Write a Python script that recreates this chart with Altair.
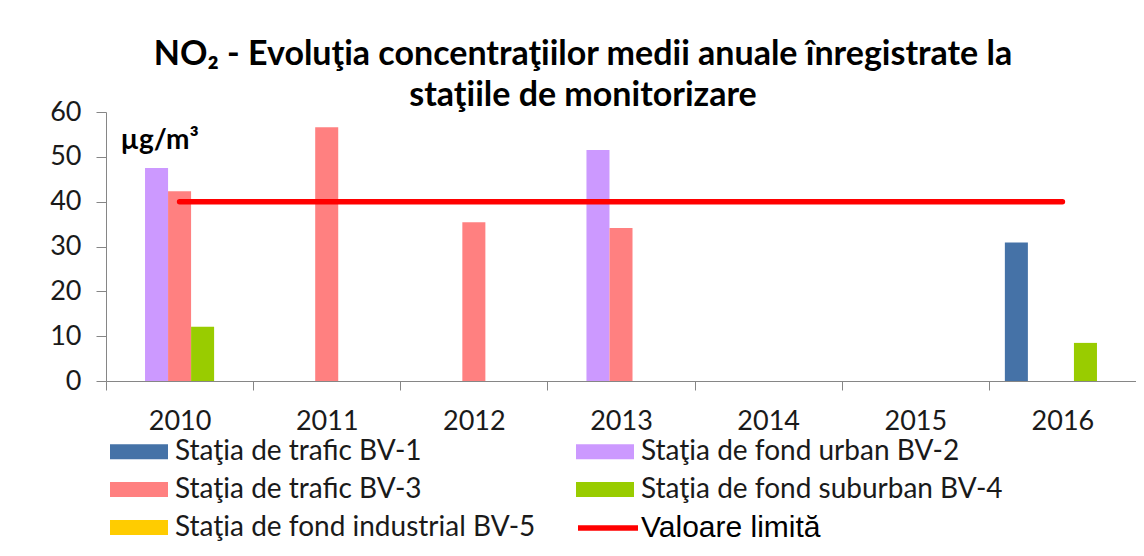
import altair as alt
import pandas as pd

years = ["2010", "2011", "2012", "2013", "2014", "2015", "2016"]
stations = [
    "Staţia de trafic BV-1",
    "Staţia de fond urban BV-2",
    "Staţia de trafic BV-3",
    "Staţia de fond suburban BV-4",
    "Staţia de fond industrial BV-5",
]
bv1 = [None, None, None, None, None, None, 30.9]
bv2 = [47.5, None, None, 51.5, None, None, None]
bv3 = [42.3, 56.6, 35.4, 34.1, None, None, None]
bv4 = [12.1, None, None, None, None, None, 8.5]
bv5 = [None, None, None, None, None, None, None]
limit_values = [40, 40, 40, 40, 40, 40, 40]
limit_label = "Valoare limită"
colors = ["#4572A7", "#CC99FF", "#FF8080", "#99CC00", "#FFCC00"]

title_lines = ["NO₂ -  Evoluţia concentraţiilor medii anuale înregistrate la",
               "staţiile de monitorizare"]
unit_label = "µg/m³"

rows = []
for st, vals in zip(stations, [bv1, bv2, bv3, bv4, bv5]):
    for y, v in zip(years, vals):
        if v is not None:
            rows.append({"year": y, "station": st, "value": v})
bars_df = pd.DataFrame(rows)
limit_df = pd.DataFrame({"year": years, "value": limit_values, "label": limit_label})

FONT = "Lato"
TXT = "#1a1a1a"

x_scale = alt.Scale(domain=years, paddingInner=0, paddingOuter=0)
y_scale = alt.Scale(domain=[0, 60], nice=False)

x_axis = alt.Axis(title=None, labelFont=FONT, labelFontSize=27, labelColor=TXT,
                  labelPadding=18, tickSize=9, tickBand="extent", domainColor="#868686",
                  tickColor="#868686", labelAngle=0, grid=False)
y_axis = alt.Axis(title=unit_label, values=[0, 10, 20, 30, 40, 50, 60], labelFont=FONT,
                  labelFontSize=27, labelColor=TXT, labelPadding=15, tickSize=10,
                  domainColor="#868686", tickColor="#868686", grid=False,
                  titleAngle=0, titleX=14, titleY=36, titleAlign="left",
                  titleBaseline="alphabetic", titleFont=FONT, titleFontSize=28,
                  titleFontWeight="bold", titleColor="#000000")

bars = alt.Chart(bars_df).mark_bar().encode(
    x=alt.X("year:N", scale=x_scale, axis=x_axis),
    xOffset=alt.XOffset("station:N", scale=alt.Scale(domain=stations, paddingInner=0, paddingOuter=0.695)),
    y=alt.Y("value:Q", scale=y_scale, axis=y_axis),
    fill=alt.Fill("station:N", scale=alt.Scale(domain=stations, range=colors),
                  legend=alt.Legend(title=None, orient="none", legendX=9.5, legendY=316,
                                    columns=2, direction="horizontal",
                                    symbolType="M-1.234,-0.319H1.234V0.319H-1.234Z",
                                    symbolSize=2209, symbolStrokeWidth=0, labelFont=FONT,
                                    labelFontSize=28, labelColor=TXT, labelOffset=12.5,
                                    columnPadding=40, rowPadding=0, padding=0,
                                    labelLimit=600, symbolOpacity=1)),
)

line = alt.Chart(limit_df).mark_line(strokeWidth=5.5, strokeCap="round").encode(
    x=alt.X("year:N", scale=x_scale),
    y=alt.Y("value:Q", scale=y_scale),
    stroke=alt.Stroke("label:N", scale=alt.Scale(domain=[limit_label], range=["#FF0000"]),
                      legend=alt.Legend(title=None, orient="none", legendX=469, legendY=383,
                                        symbolType="stroke", symbolSize=3600,
                                        symbolStrokeWidth=5.5, labelFont="Liberation Sans",
                                        labelFontSize=30, labelColor="#000000", labelOffset=0,
                                        padding=0, labelLimit=500)),
)

chart = alt.layer(bars, line).resolve_scale(fill="independent", stroke="independent").properties(
    width=1030,
    height=269,
    autosize=alt.AutoSizeParams(type="none"),
    padding={"left": 98, "top": 104, "right": 0, "bottom": 167},
    title=alt.TitleParams(text=title_lines, font=FONT, fontSize=34, fontWeight="bold",
                          color="#000000", anchor="middle", dx=-38, lineHeight=41, offset=-15),
    background="white",
).configure_view(stroke=None)

chart.save("out.html", embed_options={"renderer": "svg", "actions": False})
